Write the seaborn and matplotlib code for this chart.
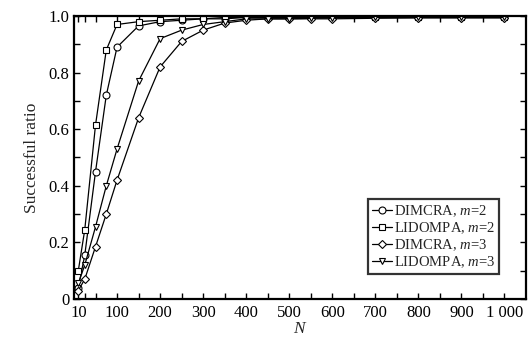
import numpy as np
import pandas as pd
import matplotlib
matplotlib.use("Agg")
import matplotlib.pyplot as plt
import seaborn as sns
from matplotlib.ticker import MultipleLocator, FixedLocator

# Data
n_values = [10, 25, 50, 75, 100, 150, 200, 250, 300, 350, 400, 450, 500, 550, 600, 700, 800, 900, 1000]
dimcra_m2 = [0.04, 0.155, 0.45, 0.72, 0.89, 0.965, 0.98, 0.985, 0.99, 0.99, 0.995, 0.995, 0.995,
             0.995, 0.995, 0.997, 0.997, 0.997, 0.997]
lidompa_m2 = [0.10, 0.245, 0.615, 0.88, 0.97, 0.98, 0.985, 0.99, 0.99, 0.995, 0.995, 0.995, 0.997,
              0.997, 0.997, 0.998, 0.998, 0.998, 0.998]
dimcra_m3 = [0.03, 0.07, 0.185, 0.30, 0.42, 0.64, 0.82, 0.91, 0.95, 0.975, 0.985, 0.99, 0.99,
             0.99, 0.99, 0.992, 0.993, 0.993, 0.993]
lidompa_m3 = [0.055, 0.12, 0.255, 0.40, 0.53, 0.77, 0.92, 0.95, 0.97, 0.98, 0.99, 0.99, 0.99,
              0.992, 0.993, 0.995, 0.995, 0.995, 0.995]

series = [
    ("DIMCRA, $m$=2", dimcra_m2, "o"),
    ("LIDOMPA, $m$=2", lidompa_m2, "s"),
    ("DIMCRA, $m$=3", dimcra_m3, "D"),
    ("LIDOMPA, $m$=3", lidompa_m3, "v"),
]
x_tick_values = [10, 100, 200, 300, 400, 500, 600, 700, 800, 900, 1000]
x_tick_labels = ["10", "100", "200", "300", "400", "500", "600", "700", "800", "900", "1 000"]
y_tick_values = [0, 0.2, 0.4, 0.6, 0.8, 1.0]
y_tick_labels = ["0", "0.2", "0.4", "0.6", "0.8", "1.0"]

sns.set_style("ticks")
plt.rcParams["font.family"] = ["Liberation Serif", "DejaVu Serif"]
plt.rcParams["mathtext.fontset"] = "custom"
plt.rcParams["mathtext.it"] = "Liberation Serif:italic"
plt.rcParams["mathtext.rm"] = "Liberation Serif"

fig = plt.figure(figsize=(5.32, 3.44), dpi=100)
ax = fig.add_axes([74 / 532, 1 - 299 / 344, (526 - 74) / 532, (299 - 16) / 344])

for label, vals, mk in series:
    ms = 4.2 if mk == "D" else 5.0
    sns.lineplot(x=n_values, y=vals, ax=ax, color="black", linewidth=0.9,
                 marker=mk, markersize=ms, markerfacecolor="white",
                 markeredgecolor="black", markeredgewidth=0.8, label=label)

ax.set_xlim(0, 1050)
ax.set_ylim(0, 1.0)
ax.xaxis.set_major_locator(FixedLocator(x_tick_values))
ax.set_xticklabels(x_tick_labels)
ax.xaxis.set_minor_locator(FixedLocator([25, 50, 150, 250, 350, 450, 550, 650, 750, 850, 950]))
ax.set_yticks(y_tick_values)
ax.set_yticklabels(y_tick_labels)
ax.yaxis.set_minor_locator(MultipleLocator(0.1))

ax.tick_params(axis="both", which="both", direction="in", top=True, right=True,
               labelsize=12, width=1.0, colors="black")
ax.tick_params(which="major", length=4)
ax.tick_params(which="minor", length=4)
ax.tick_params(axis="x", pad=4)
for sp in ax.spines.values():
    sp.set_visible(True)
    sp.set_linewidth(1.6)
    sp.set_color("black")

ax.set_xlabel("$N$", fontsize=12.5, labelpad=0)
ax.set_ylabel("Successful ratio", fontsize=12.5, labelpad=6)

leg = ax.legend(loc="lower right", bbox_to_anchor=(0.94, 0.09), frameon=True, fancybox=False,
                fontsize=10.5, handlelength=1.4, handletextpad=0.1, borderpad=0.25,
                labelspacing=0.1, borderaxespad=0)
leg.get_frame().set_edgecolor("black")
leg.get_frame().set_linewidth(1.6)

fig.savefig("out.png", dpi=100)
